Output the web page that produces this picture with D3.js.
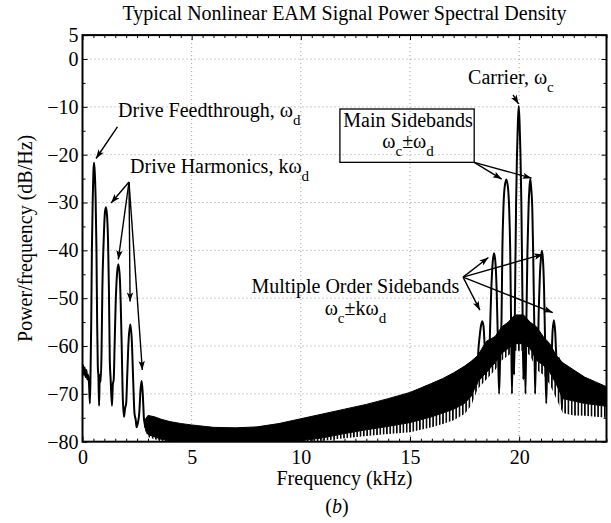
<!DOCTYPE html>
<html>
<head>
<meta charset="utf-8">
<script src="https://cdn.jsdelivr.net/npm/d3@7"></script>
<style>
  body { margin: 0; background: #fff; }
  text { font-family: "Liberation Serif", "Times New Roman", serif; fill: #000; }
</style>
</head>
<body>
<script>
// axis ranges and ticks
const freqDomain = [0, 24];
const dbDomain = [-80, 5];
const xTickValues = [0, 5, 10, 15, 20];
const yTickValues = [-80, -70, -60, -50, -40, -30, -20, -10, 0, 5];
const xGridValues = [5, 10, 15, 20];
const yGridValues = [-70, -60, -50, -40, -30, -20, -10, 0];

// drive feedthrough + harmonics (0-3 kHz)
const driveFreq = [0, 0.03, 0.06, 0.1, 0.14, 0.18, 0.22, 0.26, 0.3, 0.34, 0.37, 0.4, 0.43, 0.47, 0.5, 0.53, 0.56, 0.6, 0.64, 0.67, 0.7, 0.73, 0.76, 0.79, 0.83,
  0.87, 0.91, 0.97, 1.02, 1.07, 1.12, 1.17, 1.21, 1.25, 1.29, 1.35, 1.39, 1.43, 1.47, 1.52, 1.58, 1.64, 1.7, 1.75, 1.8, 1.84, 1.9, 1.95, 2.0,
  2.05, 2.11, 2.19, 2.26, 2.32, 2.38, 2.44, 2.48, 2.54, 2.6, 2.66, 2.71, 2.76, 2.82, 2.9];
const driveDb = [-65.5, -64, -66, -64.5, -66.5, -65, -67, -66, -68, -72, -65, -55, -40, -29, -23.5, -21.7, -23.5, -29, -40, -55, -64, -66.5, -72.5, -66, -67.5,
  -62, -48, -38, -32.5, -31, -32.5, -38, -48, -63, -67, -72.5, -68, -67, -60, -51, -45, -42.9, -45, -51, -61, -70, -74.8, -73, -72,
  -66, -59, -55.5, -59, -67, -74, -75.5, -77, -76, -74, -69, -67.3, -70, -75.5, -77];

// carrier and sidebands (18-22 kHz)
const sideFreq = [18.0, 18.07, 18.13, 18.19, 18.25, 18.31, 18.37, 18.43, 18.49, 18.55, 18.61, 18.67, 18.72, 18.78, 18.85, 18.92, 18.97, 19.02, 19.08,
  19.14, 19.19, 19.23, 19.28, 19.33, 19.41, 19.49, 19.54, 19.59, 19.63, 19.67, 19.72, 19.77, 19.81, 19.86, 19.9, 19.94, 19.98, 20.02, 20.06,
  20.1, 20.15, 20.19, 20.24, 20.29, 20.33, 20.38, 20.43, 20.47, 20.51, 20.55, 20.6, 20.64, 20.69, 20.73, 20.78, 20.85, 20.9, 20.95, 21.0,
  21.04, 21.09, 21.14, 21.19, 21.24, 21.3, 21.36, 21.42, 21.48, 21.53, 21.59, 21.65, 21.7, 21.76, 21.82, 21.9, 21.96, 22.02];
const sideDb = [-64, -68, -61, -58, -55.8, -54.8, -56, -61, -66, -61, -65, -56, -48.5, -43, -40.6, -43, -48.5, -58, -70,
  -60, -55, -40, -31, -27, -25.2, -27, -31, -40, -55, -70, -55, -66, -50, -30, -20, -13.5, -9.8, -13.5, -20,
  -30, -50, -67, -55, -70, -55, -40, -31, -27, -25.1, -27, -31, -40, -55, -70, -58, -62, -52, -45, -41.5,
  -40.1, -42, -48, -60, -72, -61, -63, -60, -62, -57, -54.6, -57, -62, -64, -62.5, -66, -73, -64.5];

// dense noise floor: upper envelope, bottom of the solid part, lowest fringe
const floorFreq = [2.85, 3.0, 3.3, 3.6, 4, 4.5, 5, 6, 7, 8, 9, 10, 11, 12, 13, 14, 15, 16, 16.5, 17, 17.5, 17.8, 18.1, 18.5, 18.9, 19.2,
  19.5, 19.8, 20.2, 20.5, 20.8, 21.1, 21.4, 21.7, 22, 22.5, 23, 23.5, 24];
const floorHigh = [-75.5, -74.5, -74.8, -75.3, -75.8, -76.2, -76.5, -77, -77.1, -76.9, -76.2, -75.2, -74.2, -73.2, -72.2, -71, -69.7, -67.8, -66.8,
  -65.6, -64.2, -63.2, -62, -59, -58, -56, -55, -53.5, -53.5, -55, -56, -58, -59.5, -62, -63.5, -65, -66.5, -67.5, -68.5];
const floorSolid = [-77, -78.5, -79, -79.5, -79.8, -80, -80, -80, -80, -80, -80, -79.8, -79.2, -78.3, -77.5, -76.8, -76, -74.8, -74,
  -73.2, -72, -70.5, -67.5, -65.5, -63.5, -61.5, -60.5, -59.5, -59.5, -60.5, -63, -64, -65.5, -68, -71, -71.5, -72, -72.3, -72.6];
const floorLow = [-77.5, -79, -79.5, -79.8, -80, -80, -80, -80, -80, -80, -80, -80, -79.8, -79.3, -78.8, -78.4, -78, -77, -76.3,
  -75.5, -74.2, -72.5, -69, -67, -65, -63, -62, -61, -61, -62, -65, -66, -68, -71, -74, -74.5, -74.6, -74.8, -75];

// annotations, in data units: [fromF, fromDb, toF, toDb]
const noteArrows = [
  [1.60, -14.2, 0.62, -20.8],
  [2.13, -25.7, 1.31, -30.1],
  [2.13, -25.7, 1.64, -41.9],
  [2.13, -25.7, 2.18, -50.7],
  [2.13, -25.7, 2.74, -65.0],
  [19.72, -7.5, 19.97, -9.4],
  [17.94, -21.6, 19.2, -25.1],
  [17.94, -21.6, 20.57, -24.9],
  [17.43, -45.6, 18.59, -41.5],
  [17.43, -45.6, 21.1, -40.8],
  [17.43, -45.6, 21.54, -53.0],
  [17.43, -45.6, 18.2, -52.5]
];
const noteTexts = [
  {f: 1.63, db: -12.1, anchor: "start", parts: [["Drive Feedthrough, ω"], ["d", 1]]},
  {f: 2.18, db: -23.8, anchor: "start", parts: [["Drive Harmonics, kω"], ["d", 1]]},
  {f: 17.66, db: -5.2, anchor: "start", parts: [["Carrier, ω"], ["c", 1]]},
  {f: 14.91, db: -14.2, anchor: "middle", parts: [["Main Sidebands"]]},
  {f: 14.91, db: -18.6, anchor: "middle", parts: [["ω"], ["c", 1], ["±ω"], ["d", 1]]},
  {f: 12.5, db: -48.9, anchor: "middle", parts: [["Multiple Order Sidebands"]]},
  {f: 12.5, db: -53.6, anchor: "middle", parts: [["ω"], ["c", 1], ["±kω"], ["d", 1]]}
];
const noteBox = [11.79, -10.45, 17.94, -21.6];

const W = 611, H = 523;
const plot = {left: 82.5, right: 606.5, top: 35.1, bottom: 441.7};

const svg = d3.select("body").append("svg")
  .attr("width", W).attr("height", H);

const x = d3.scaleLinear().domain(freqDomain).range([plot.left, plot.right]);
const y = d3.scaleLinear().domain(dbDomain).range([plot.bottom, plot.top]);

const defs = svg.append("defs");
defs.append("clipPath").attr("id", "plotclip")
  .append("rect")
  .attr("x", plot.left).attr("y", plot.top)
  .attr("width", plot.right - plot.left).attr("height", plot.bottom - plot.top);

// vertical comb for the ragged lower edge of the floor
const comb = defs.append("pattern").attr("id", "comb")
  .attr("patternUnits", "userSpaceOnUse")
  .attr("width", 3.3).attr("height", 10);
comb.append("rect").attr("width", 1.6).attr("height", 10).attr("fill", "#000");

defs.append("marker")
  .attr("id", "head")
  .attr("markerUnits", "userSpaceOnUse")
  .attr("viewBox", "-10 -5 11 10")
  .attr("markerWidth", 11).attr("markerHeight", 10)
  .attr("refX", 0).attr("refY", 0)
  .attr("orient", "auto")
  .append("path")
  .attr("d", "M0,0 L-9,-3.2 L-7,0 L-9,3.2 Z")
  .attr("fill", "#000");

// grid
const grid = svg.append("g").attr("stroke", "#999").attr("stroke-width", 1).attr("stroke-dasharray", "1,3");
grid.selectAll(".gx").data(xGridValues).enter().append("line")
  .attr("x1", d => x(d)).attr("x2", d => x(d))
  .attr("y1", plot.top).attr("y2", plot.bottom);
grid.selectAll(".gy").data(yGridValues).enter().append("line")
  .attr("y1", d => y(d)).attr("y2", d => y(d))
  .attr("x1", plot.left).attr("x2", plot.right);

const chart = svg.append("g").attr("clip-path", "url(#plotclip)");

// noise floor band
const floorRows = floorFreq.map((f, i) => ({f: f, hi: floorHigh[i], mid: floorSolid[i], lo: floorLow[i]}));
chart.append("path")
  .datum(floorRows)
  .attr("fill", "url(#comb)")
  .attr("d", d3.area().x(d => x(d.f)).y0(d => y(d.lo)).y1(d => y(d.mid)));
chart.append("path")
  .datum(floorRows)
  .attr("fill", "#000")
  .attr("stroke", "#000")
  .attr("stroke-width", 1)
  .attr("d", d3.area().x(d => x(d.f)).y0(d => y(d.mid)).y1(d => y(d.hi)));

const line = d3.line().x(d => x(d[0])).y(d => y(d[1])).curve(d3.curveMonotoneX);

chart.append("path")
  .datum(driveFreq.map((f, i) => [f, driveDb[i]]))
  .attr("fill", "none").attr("stroke", "#000").attr("stroke-width", 2)
  .attr("d", line);

chart.append("path")
  .datum(sideFreq.map((f, i) => [f, sideDb[i]]))
  .attr("fill", "none").attr("stroke", "#000").attr("stroke-width", 2)
  .attr("d", line);

// axes, ticks pointing inward
const minorX = d3.range(0, 24.01, 0.5).filter(v => !xTickValues.includes(v));
const minorY = d3.range(-75, 5, 10);

function tickFont(g) {
  g.select(".domain").remove();
  g.selectAll("text").attr("font-size", 20).attr("font-family", "'Liberation Serif', 'Times New Roman', serif");
  g.selectAll("line").attr("stroke", "#000");
}

svg.append("g").attr("transform", `translate(0,${plot.bottom})`)
  .call(d3.axisBottom(x).tickValues(xTickValues).tickSizeInner(-5).tickSizeOuter(0).tickPadding(8))
  .call(tickFont);
svg.append("g").attr("transform", `translate(0,${plot.bottom})`)
  .call(d3.axisBottom(x).tickValues(minorX).tickSizeInner(-3).tickSizeOuter(0).tickFormat(""))
  .call(tickFont);
svg.append("g").attr("transform", `translate(0,${plot.top})`)
  .call(d3.axisTop(x).tickValues(xTickValues).tickSizeInner(-5).tickSizeOuter(0).tickFormat(""))
  .call(tickFont);
svg.append("g").attr("transform", `translate(0,${plot.top})`)
  .call(d3.axisTop(x).tickValues(minorX).tickSizeInner(-3).tickSizeOuter(0).tickFormat(""))
  .call(tickFont);

svg.append("g").attr("transform", `translate(${plot.left},0)`)
  .call(d3.axisLeft(y).tickValues(yTickValues).tickSizeInner(-5).tickSizeOuter(0).tickPadding(4))
  .call(tickFont);
svg.append("g").attr("transform", `translate(${plot.left},0)`)
  .call(d3.axisLeft(y).tickValues(minorY).tickSizeInner(-3).tickSizeOuter(0).tickFormat(""))
  .call(tickFont);
svg.append("g").attr("transform", `translate(${plot.right},0)`)
  .call(d3.axisRight(y).tickValues(yTickValues).tickSizeInner(-5).tickSizeOuter(0).tickFormat(""))
  .call(tickFont);
svg.append("g").attr("transform", `translate(${plot.right},0)`)
  .call(d3.axisRight(y).tickValues(minorY).tickSizeInner(-3).tickSizeOuter(0).tickFormat(""))
  .call(tickFont);

// frame
svg.append("rect")
  .attr("x", plot.left).attr("y", plot.top)
  .attr("width", plot.right - plot.left).attr("height", plot.bottom - plot.top)
  .attr("fill", "none").attr("stroke", "#000").attr("stroke-width", 2);

// titles
const midX = (plot.left + plot.right) / 2;
svg.append("text").attr("x", midX).attr("y", 20)
  .attr("text-anchor", "middle").attr("font-size", 20)
  .text("Typical Nonlinear EAM Signal Power Spectral Density");
svg.append("text").attr("x", midX).attr("y", 485)
  .attr("text-anchor", "middle").attr("font-size", 20)
  .text("Frequency (kHz)");
const cap = svg.append("text").attr("x", 337).attr("y", 513)
  .attr("text-anchor", "middle").attr("font-size", 20);
cap.append("tspan").text("(");
cap.append("tspan").attr("font-style", "italic").text("b");
cap.append("tspan").text(")");
svg.append("text")
  .attr("transform", `translate(32,${(plot.top + plot.bottom) / 2}) rotate(-90)`)
  .attr("text-anchor", "middle").attr("font-size", 20)
  .text("Power/frequency (dB/Hz)");

// annotations
const notes = svg.append("g");
notes.append("rect")
  .attr("x", x(noteBox[0])).attr("y", y(noteBox[1]))
  .attr("width", x(noteBox[2]) - x(noteBox[0])).attr("height", y(noteBox[3]) - y(noteBox[1]))
  .attr("fill", "none").attr("stroke", "#000").attr("stroke-width", 1.3);

notes.selectAll(".arrow").data(noteArrows).enter().append("line")
  .attr("x1", d => x(d[0])).attr("y1", d => y(d[1]))
  .attr("x2", d => x(d[2])).attr("y2", d => y(d[3]))
  .attr("stroke", "#000").attr("stroke-width", 1.4)
  .attr("marker-end", "url(#head)");

noteTexts.forEach(n => {
  const t = notes.append("text")
    .attr("x", x(n.f)).attr("y", y(n.db))
    .attr("text-anchor", n.anchor).attr("font-size", 20);
  let low = false;
  n.parts.forEach(p => {
    const s = t.append("tspan").text(p[0]);
    if (p[1]) {
      s.attr("font-size", 15).attr("dy", 8);
      low = true;
    } else if (low) {
      s.attr("dy", -8);
      low = false;
    }
  });
});
</script>
</body>
</html>
